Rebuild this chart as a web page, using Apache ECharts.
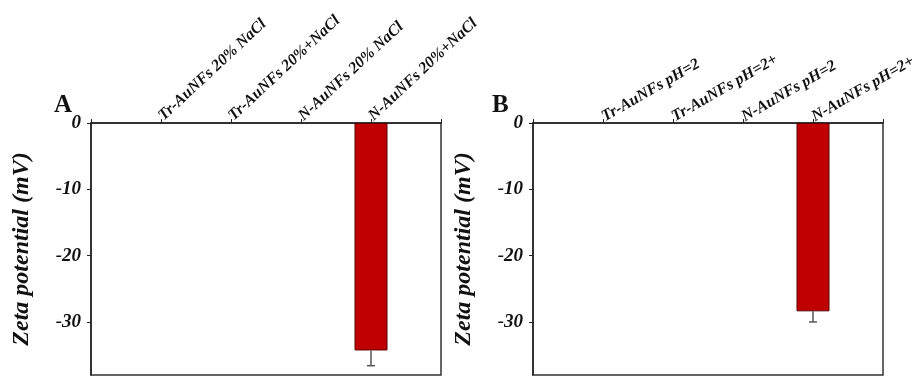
<!DOCTYPE html>
<html>
<head>
<meta charset="utf-8">
<script src="https://cdn.jsdelivr.net/npm/echarts@6/dist/echarts.min.js"></script>
<style>
  html, body { margin: 0; padding: 0; background: #fff; }
  #chart { width: 916px; height: 378px; }
</style>
</head>
<body>
<div id="chart"></div>
<script>
// panel A: NaCl, panel B: pH
var categoriesA = ['Tr-AuNFs 20% NaCl', 'Tr-AuNFs 20%+NaCl', 'N-AuNFs 20% NaCl', 'N-AuNFs 20%+NaCl'];
var valuesA = [null, null, null, -34.3];
var errorsA = [null, null, null, 2.3];

var categoriesB = ['Tr-AuNFs pH=2', 'Tr-AuNFs pH=2+', 'N-AuNFs pH=2', 'N-AuNFs pH=2+'];
var valuesB = [null, null, null, -28.4];
var errorsB = [null, null, null, 1.6];

var yTicks = [0, -10, -20, -30];
var yMin = -38, yMax = 0;

var serif = '"Liberation Serif", "DejaVu Serif", serif';

function pad(arr) { return [null].concat(arr, [null]); }

function xAxisFor(idx, cats, rot) {
    return {
        type: 'category', gridIndex: idx, position: 'top',
        boundaryGap: false,
        data: [''].concat(cats, ['']),
        axisLine: { lineStyle: { color: '#222', width: 1.5 } },
        axisTick: { show: true, length: 4, lineStyle: { color: '#222' } },
        axisLabel: {
            rotate: rot, margin: 5, color: '#111',
            fontFamily: serif, fontStyle: 'italic', fontWeight: 'bold', fontSize: 16,
            interval: 0
        }
    };
}

function yAxisFor(idx) {
    return {
        type: 'value', gridIndex: idx, min: yMin, max: yMax,
        name: 'Zeta potential (mV)', nameLocation: 'middle', nameRotate: 90, nameGap: 57,
        nameTextStyle: { fontFamily: serif, fontStyle: 'italic', fontWeight: 'bold', fontSize: 24, color: '#111' },
        axisLine: { show: true, lineStyle: { color: '#222', width: 1.5 } },
        axisTick: { show: true, length: 4, customValues: yTicks, lineStyle: { color: '#222' } },
        axisLabel: {
            customValues: yTicks, margin: 10, color: '#111',
            fontFamily: serif, fontStyle: 'italic', fontWeight: 'bold', fontSize: 19
        },
        splitLine: { show: false }
    };
}

function barSeries(idx, vals) {
    return {
        type: 'bar', xAxisIndex: idx, yAxisIndex: idx,
        data: pad(vals), barWidth: 33,
        itemStyle: { color: '#c00000', borderColor: '#5a0000', borderWidth: 1 }
    };
}

function errSeries(idx, vals, errs) {
    var pts = [];
    vals.forEach(function (v, i) {
        if (v !== null) pts.push([i + 1, v, errs[i]]);
    });
    return {
        type: 'custom', xAxisIndex: idx, yAxisIndex: idx, z: 5,
        data: pts,
        renderItem: function (params, api) {
            var x = api.value(0), v = api.value(1), e = api.value(2);
            var top = api.coord([x, v]);
            var bot = api.coord([x, v - e]);
            var st = { stroke: '#555', lineWidth: 1.5 };
            return {
                type: 'group',
                children: [
                    { type: 'line', shape: { x1: top[0], y1: top[1], x2: bot[0], y2: bot[1] }, style: st },
                    { type: 'line', shape: { x1: bot[0] - 4, y1: bot[1], x2: bot[0] + 4, y2: bot[1] }, style: st }
                ]
            };
        }
    };
}

var chart = echarts.init(document.getElementById('chart'));
chart.setOption({
    backgroundColor: '#fff',
    animation: false,
    title: [
        { text: 'A', left: 49, top: 88, textStyle: { fontFamily: serif, fontWeight: 'bold', fontSize: 25, color: '#111' } },
        { text: 'B', left: 487, top: 88, textStyle: { fontFamily: serif, fontWeight: 'bold', fontSize: 25, color: '#111' } }
    ],
    grid: [
        { left: 91, top: 123, width: 350, height: 252, outerBoundsMode: 'none', show: true, borderColor: '#333', borderWidth: 1.5, backgroundColor: '#fff' },
        { left: 533, top: 123, width: 350, height: 252, outerBoundsMode: 'none', show: true, borderColor: '#333', borderWidth: 1.5, backgroundColor: '#fff' }
    ],
    xAxis: [xAxisFor(0, categoriesA, 43), xAxisFor(1, categoriesB, 30)],
    yAxis: [yAxisFor(0), yAxisFor(1)],
    series: [
        barSeries(0, valuesA), errSeries(0, valuesA, errorsA),
        barSeries(1, valuesB), errSeries(1, valuesB, errorsB)
    ]
});
</script>
</body>
</html>
